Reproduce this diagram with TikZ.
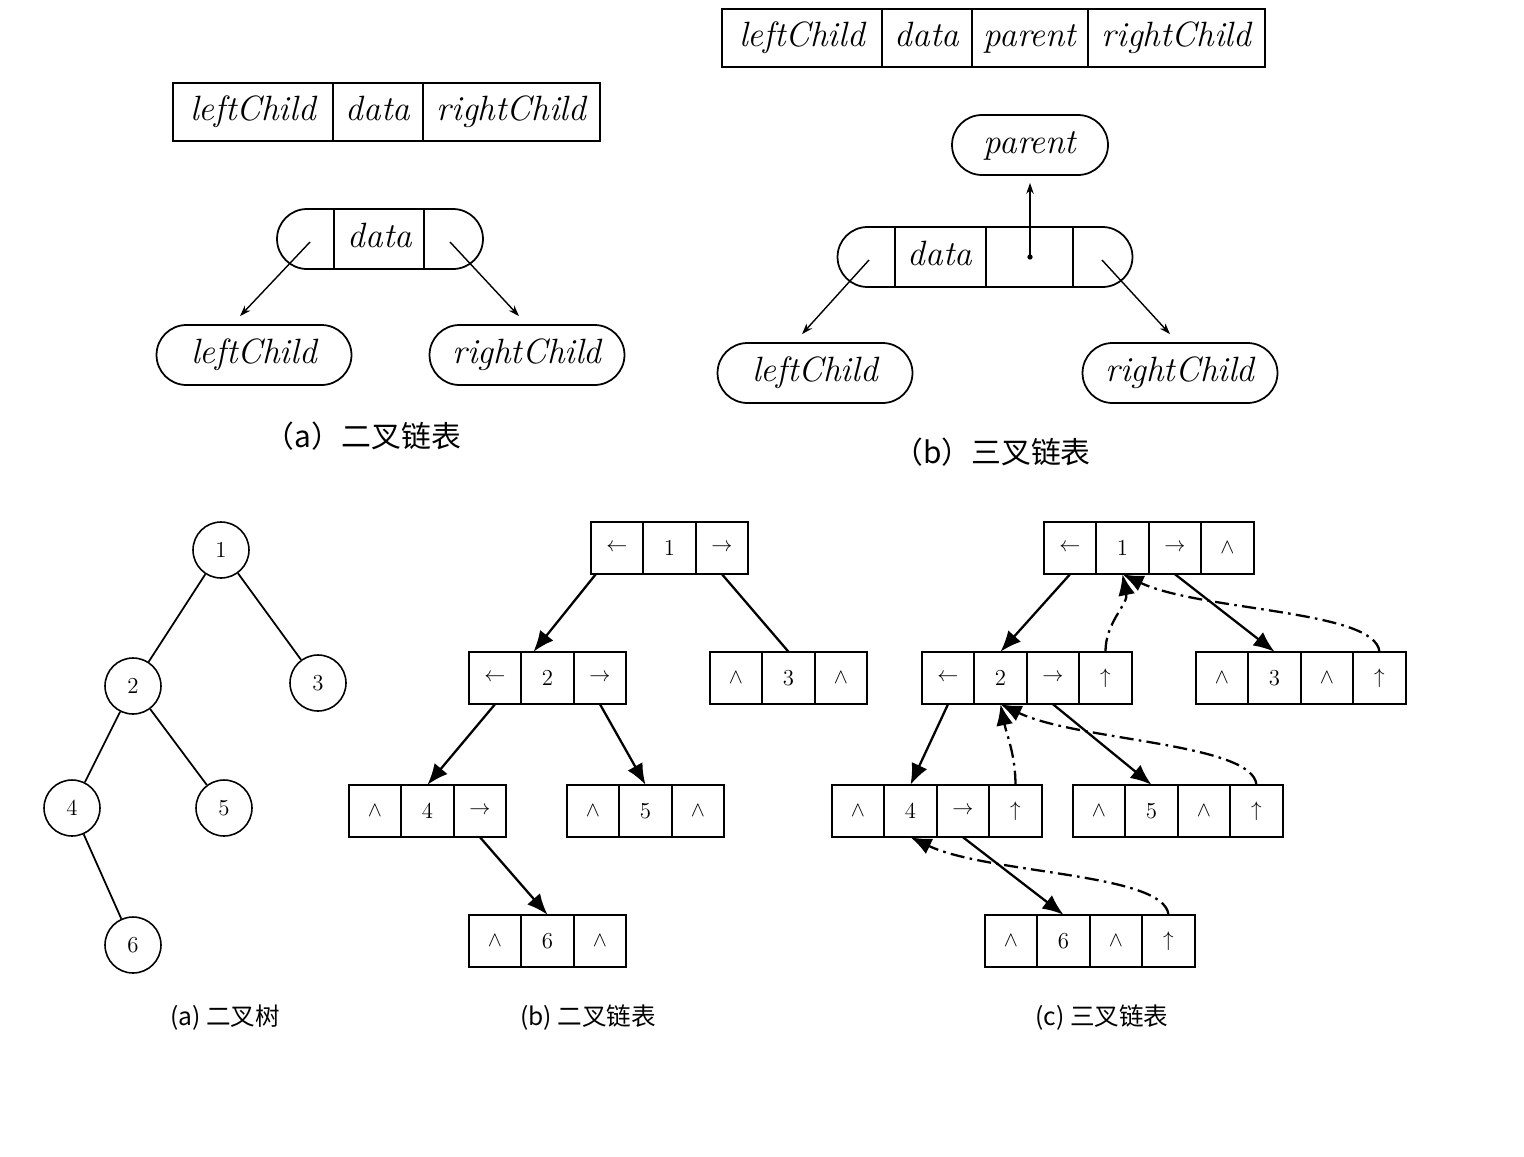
\documentclass[tikz,border=0pt]{standalone}
\usepackage{fontspec}
\newfontfamily\cjk{Noto Sans CJK SC}
\usetikzlibrary{shapes.misc,arrows.meta,positioning,calc}
\tikzset{
    labeltext/.style={
        font=\fontsize{20}{24}\selectfont\itshape,  % field names, italic
        text height=14pt,         % same baseline for every name
        text depth=4pt
    },
    fieldbox/.style={
        rectangle,                % one field of the record layout
        draw,
        line width=1.2pt,
        minimum width=#1,         % each field has its own width
        minimum height=1.16cm,
        inner sep=0pt,
        outer sep=0pt,            % fields touch each other exactly
        labeltext
    },
    ovalbox/.style={
        rounded rectangle,        % rounded ends as in the sketch
        draw,
        line width=1pt,
        minimum height=1.2cm,
        inner sep=0pt,
        labeltext
    },
    divider/.style={
        line width=1pt            % inner walls of the rounded node
    },
    cellbox/.style={
        rectangle,                % one cell of a linked node
        draw,
        line width=0.9pt,
        minimum size=1.05cm,
        inner sep=0pt,
        outer sep=0pt,
        font=\fontsize{13}{15}\selectfont
    },
    treenode/.style={
        circle,
        draw,
        line width=0.9pt,
        minimum size=1.12cm,
        inner sep=0pt,
        font=\fontsize{13}{15}\selectfont
    },
    smallarrow/.style={
        -{Stealth[length=0.22cm,width=0.15cm]},
        line width=0.8pt
    },
    linkarrow/.style={
        -{Latex[length=0.42cm,width=0.34cm]},
        line width=1.3pt
    },
    parentarrow/.style={
        linkarrow,
        dash pattern=on 8pt off 3pt on 1.5pt off 3pt   % dash-dot line
    },
    captiontop/.style={
        font=\cjk\fontsize{17}{20}\selectfont
    },
    captionbottom/.style={
        font=\cjk\fontsize{14}{16}\selectfont
    }
}
\begin{document}
\begin{tikzpicture}[x=0.02cm, y=-0.02cm]
\useasboundingbox (0,0) rectangle (1524,1156);

% (a) two pointers per node
\node[fieldbox=3.2cm] (alc) at (253,112) {leftChild};
\node[fieldbox=1.8cm, right=0pt of alc] (ada) {data};
\node[fieldbox=3.54cm, right=0pt of ada] (arc) {rightChild};

\node[ovalbox, minimum width=4.12cm] (anode) at (380,239) {data};
\draw[divider] ($(anode.north)+(-46,0)$) -- ($(anode.south)+(-46,0)$);
\draw[divider] ($(anode.north)+(44,0)$) -- ($(anode.south)+(44,0)$);
\node[ovalbox, minimum width=3.9cm] (aleft) at (254,355) {leftChild};
\node[ovalbox, minimum width=3.9cm] (aright) at (527,355) {rightChild};
\coordinate (aptrl) at (310,242);
\coordinate (aptrr) at (450,242);
\draw[smallarrow] (aptrl) -- ($(aleft.north)+(-14,-8)$);
\draw[smallarrow] (aptrr) -- ($(aright.north)+(-8,-8)$);
\node[captiontop] (acap) at (363,436) {（a）二叉链表};

% (b) three pointers per node
\node[fieldbox=3.2cm] (blc) at (802,38) {leftChild};
\node[fieldbox=1.8cm, right=0pt of blc] (bda) {data};
\node[fieldbox=2.32cm, right=0pt of bda] (bpa) {parent};
\node[fieldbox=3.54cm, right=0pt of bpa] (brc) {rightChild};

\node[ovalbox, minimum width=3.12cm] (bparent) at (1030,145) {parent};
\node[ovalbox, minimum width=5.9cm] (bnode) at (985,257) {};
\draw[divider] ($(bnode.north)+(-90,0)$) -- ($(bnode.south)+(-90,0)$);
\draw[divider] ($(bnode.north)+(1,0)$) -- ($(bnode.south)+(1,0)$);
\draw[divider] ($(bnode.north)+(88,0)$) -- ($(bnode.south)+(88,0)$);
\node[labeltext] (bdata) at (940,257) {data};
\coordinate (bdot) at (1030,257);
\fill (bdot) circle (1.5pt);
\node[ovalbox, minimum width=3.9cm] (bleft) at (815,373) {leftChild};
\node[ovalbox, minimum width=3.9cm] (bright) at (1180,373) {rightChild};
\coordinate (bptrl) at (869,260);
\coordinate (bptrr) at (1102,260);
\draw[smallarrow] (bptrl) -- ($(bleft.north)+(-13,-8)$);
\draw[smallarrow] (bptrr) -- ($(bright.north)+(-10,-8)$);
\draw[smallarrow] (bdot) -- ($(bparent.south)+(0,7)$);
\node[captiontop] (bcap) at (992,452) {（b）三叉链表};

% binary tree
\node[treenode] (t1) at (221,550) {1};
\node[treenode] (t2) at (133,686) {2};
\node[treenode] (t3) at (318,683) {3};
\node[treenode] (t4) at (72,808) {4};
\node[treenode] (t5) at (224,808) {5};
\node[treenode] (t6) at (133,945) {6};
\draw[line width=1pt] (t1) -- (t2);
\draw[line width=1pt] (t1) -- (t3);
\draw[line width=1pt] (t2) -- (t4);
\draw[line width=1pt] (t2) -- (t5);
\draw[line width=1pt] (t4) -- (t6);
\node[captionbottom] (tcap) at (225,1018) {(a) 二叉树};

% binary linked list
\node[cellbox] (bin1l) at (617,548) {$\leftarrow$};
\node[cellbox, right=0pt of bin1l] (bin1d) {1};
\node[cellbox, right=0pt of bin1d] (bin1r) {$\rightarrow$};
\node[cellbox] (bin2l) at (495,678) {$\leftarrow$};
\node[cellbox, right=0pt of bin2l] (bin2d) {2};
\node[cellbox, right=0pt of bin2d] (bin2r) {$\rightarrow$};
\node[cellbox] (bin3l) at (736,678) {$\wedge$};
\node[cellbox, right=0pt of bin3l] (bin3d) {3};
\node[cellbox, right=0pt of bin3d] (bin3r) {$\wedge$};
\node[cellbox] (bin4l) at (375,811) {$\wedge$};
\node[cellbox, right=0pt of bin4l] (bin4d) {4};
\node[cellbox, right=0pt of bin4d] (bin4r) {$\rightarrow$};
\node[cellbox] (bin5l) at (593,811) {$\wedge$};
\node[cellbox, right=0pt of bin5l] (bin5d) {5};
\node[cellbox, right=0pt of bin5d] (bin5r) {$\wedge$};
\node[cellbox] (bin6l) at (495,941) {$\wedge$};
\node[cellbox, right=0pt of bin6l] (bin6d) {6};
\node[cellbox, right=0pt of bin6d] (bin6r) {$\wedge$};

\draw[linkarrow] ($(bin1l.south west)+(5,0)$) -- ($(bin2d.north)+(-14,0)$);
\draw[line width=1.3pt] (bin1r.south) -- (bin3d.north);
\draw[linkarrow] (bin2l.south) -- (bin4d.north);
\draw[linkarrow] (bin2r.south) -- (bin5d.north);
\draw[linkarrow] (bin4r.south) -- (bin6d.north);
\node[captionbottom] (bincap) at (588,1018) {(b) 二叉链表};

% triple linked list
\node[cellbox] (tri1l) at (1070,548) {$\leftarrow$};
\node[cellbox, right=0pt of tri1l] (tri1d) {1};
\node[cellbox, right=0pt of tri1d] (tri1r) {$\rightarrow$};
\node[cellbox, right=0pt of tri1r] (tri1p) {$\wedge$};
\node[cellbox] (tri2l) at (948,678) {$\leftarrow$};
\node[cellbox, right=0pt of tri2l] (tri2d) {2};
\node[cellbox, right=0pt of tri2d] (tri2r) {$\rightarrow$};
\node[cellbox, right=0pt of tri2r] (tri2p) {$\uparrow$};
\node[cellbox] (tri3l) at (1222,678) {$\wedge$};
\node[cellbox, right=0pt of tri3l] (tri3d) {3};
\node[cellbox, right=0pt of tri3d] (tri3r) {$\wedge$};
\node[cellbox, right=0pt of tri3r] (tri3p) {$\uparrow$};
\node[cellbox] (tri4l) at (858,811) {$\wedge$};
\node[cellbox, right=0pt of tri4l] (tri4d) {4};
\node[cellbox, right=0pt of tri4d] (tri4r) {$\rightarrow$};
\node[cellbox, right=0pt of tri4r] (tri4p) {$\uparrow$};
\node[cellbox] (tri5l) at (1099,811) {$\wedge$};
\node[cellbox, right=0pt of tri5l] (tri5d) {5};
\node[cellbox, right=0pt of tri5d] (tri5r) {$\wedge$};
\node[cellbox, right=0pt of tri5r] (tri5p) {$\uparrow$};
\node[cellbox] (tri6l) at (1011,941) {$\wedge$};
\node[cellbox, right=0pt of tri6l] (tri6d) {6};
\node[cellbox, right=0pt of tri6d] (tri6r) {$\wedge$};
\node[cellbox, right=0pt of tri6r] (tri6p) {$\uparrow$};

\draw[linkarrow] (tri1l.south) -- (tri2d.north);
\draw[linkarrow] (tri1r.south) -- (tri3d.north);
\draw[linkarrow] (tri2l.south) -- (tri4d.north);
\draw[linkarrow] (tri2r.south) -- (tri5d.north);
\draw[linkarrow] (tri4r.south) -- (tri6d.north);
% parent pointers
\draw[parentarrow] (tri2p.north) .. controls ($(tri2p.north)+(0,-30)$) and ($(tri1d.south)+(6,30)$) .. (tri1d.south);
\draw[parentarrow] (tri4p.north) .. controls ($(tri4p.north)+(0,-30)$) and ($(tri2d.south)+(6,30)$) .. (tri2d.south);
\draw[parentarrow] (tri3p.north) .. controls ($(tri3p.north)+(-4,-42)$) and ($(tri1d.south)+(78,37)$) .. (tri1d.south);
\draw[parentarrow] (tri5p.north) .. controls ($(tri5p.north)+(-4,-42)$) and ($(tri2d.south)+(78,37)$) .. (tri2d.south);
\draw[parentarrow] (tri6p.north) .. controls ($(tri6p.north)+(-4,-42)$) and ($(tri4d.south)+(78,37)$) .. (tri4d.south);
\node[captionbottom] (tricap) at (1102,1018) {(c) 三叉链表};
\end{tikzpicture}
\end{document}
